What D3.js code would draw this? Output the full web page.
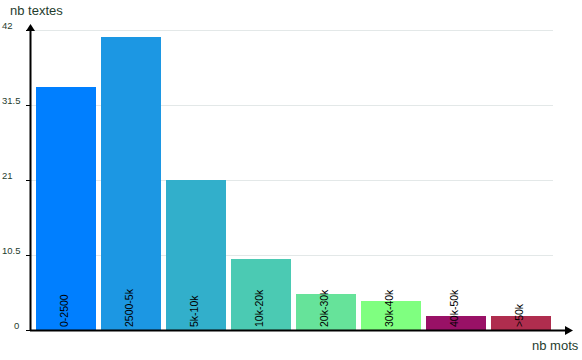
<!DOCTYPE html>
<html><head><meta charset="utf-8">
<script src="https://cdn.jsdelivr.net/npm/d3@7"></script>
<style>body{margin:0;background:#fff;} svg{display:block;font-family:"Liberation Sans",Arial,sans-serif;}</style>
</head><body><svg id="c" width="582" height="360"></svg>
<script>
const categories = ["0-2500","2500-5k","5k-10k","10k-20k","20k-30k","30k-40k","40k-50k",">50k"];
const values = [34, 41, 21, 10, 5, 4, 2, 2];
const colors = ["#007FFF","#1C97E3","#32AFCB","#4BCAB3","#66E39A","#7FFF80","#991166","#AF2D4E"];
const tickValues = [0, 10.5, 21, 31.5, 42];
const tickLabels = ["0","10.5","21","31.5","42"];

const svg = d3.select("#c");
const x0 = 31, yTop = 30, yBot = 330;
const xs = d3.scaleBand().domain(categories).range([36 - 2.5, 36 - 2.5 + 65*8]).paddingInner(5/65).paddingOuter(2.5/65);
const y = d3.scaleLinear().domain([0, 42]).range([yBot, yTop]);

// gridlines
svg.append("g").selectAll("line").data(tickValues.filter(d=>d>0)).join("line")
  .attr("x1", x0).attr("x2", 553).attr("y1", d=>y(d)+0.5).attr("y2", d=>y(d)+0.5)
  .attr("stroke", "#e3e8e8").attr("stroke-width", 1);

// bars
svg.append("g").selectAll("rect").data(values).join("rect")
  .attr("x", (d,i)=>Math.round(xs(categories[i])))
  .attr("width", 60)
  .attr("y", d=>Math.round(y(d)))
  .attr("height", d=>yBot - Math.round(y(d)))
  .attr("fill", (d,i)=>colors[i]);

// bar labels
svg.append("g").selectAll("text").data(categories).join("text")
  .attr("transform", d=>`translate(${Math.round(xs(d))+32},327) rotate(-90)`)
  .attr("font-size", 10.5).attr("fill", "#000")
  .text(d=>d);

// y ticks
const tg = svg.append("g");
tg.selectAll("line").data(tickValues).join("line")
  .attr("x1", 26).attr("x2", x0).attr("y1", d=>y(d)+0.5).attr("y2", d=>y(d)+0.5)
  .attr("stroke", "#000");
tg.selectAll("text").data(tickValues).join("text")
  .attr("x", d => d===0 ? 14 : 2).attr("y", d=>y(d)-1)
  .attr("font-size", 9.5).attr("fill", "#1f3d2e")
  .text((d,i)=>tickLabels[i]);

// axes
svg.append("line").attr("x1", x0-0.5).attr("x2", x0-0.5).attr("y1", 30).attr("y2", 331).attr("stroke","#000").attr("stroke-width",2);
svg.append("line").attr("x1", x0-1).attr("x2", 566).attr("y1", 330.5).attr("y2", 330.5).attr("stroke","#000").attr("stroke-width",2);
svg.append("path").attr("d", `M${x0-0.5},24 L${x0-5},31 L${x0+4},31 Z`).attr("fill","#000");
svg.append("path").attr("d", `M573,330.5 L565,326 L565,335 Z`).attr("fill","#000");

// axis titles
svg.append("text").attr("x", 10).attr("y", 15).attr("font-size", 13).attr("fill", "#1f3d2e").text("nb textes");
svg.append("text").attr("x", 532).attr("y", 350).attr("font-size", 13).attr("fill", "#1f3d2e").text("nb mots");
</script></body></html>
